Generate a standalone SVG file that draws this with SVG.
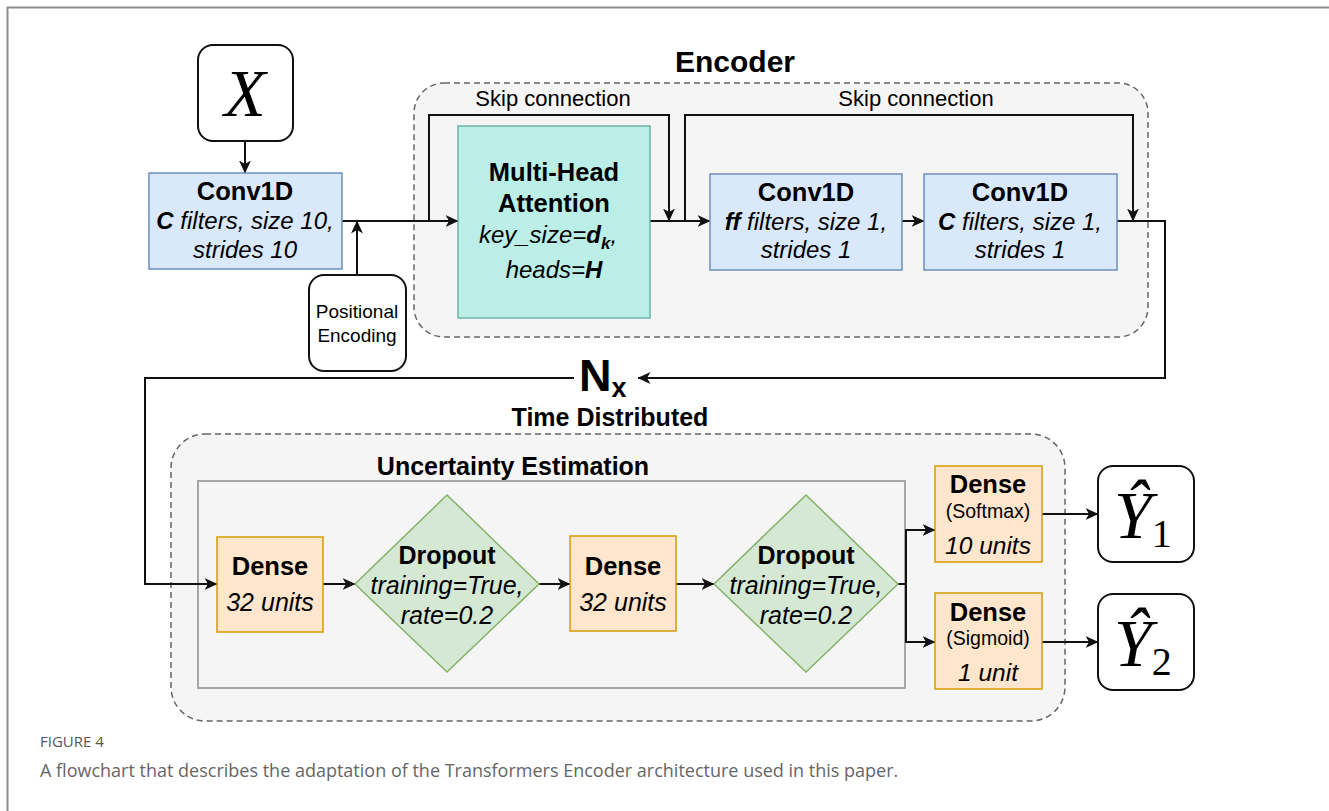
<svg xmlns="http://www.w3.org/2000/svg" width="1329" height="811" viewBox="0 0 1329 811">
<style>
.t{font-family:"Liberation Sans",Arial,sans-serif;fill:#000}
.b{font-weight:bold}
.i{font-style:italic}
.c{text-anchor:middle}
.m{font-family:"Liberation Serif","Times New Roman",serif;font-style:italic;fill:#000}
.conn{fill:none;stroke:#111;stroke-width:2}
.grp{fill:#f5f5f5;stroke:#666;stroke-width:1.5;stroke-dasharray:6 4}
.conv{fill:#dae8fc;stroke:#6c8ebf;stroke-width:1.5}
.dense{fill:#ffe6cc;stroke:#d79b00;stroke-width:1.5}
.drop{fill:#d5e8d4;stroke:#82b366;stroke-width:1.5}
.io{fill:#fff;stroke:#111;stroke-width:2}
</style>
<defs>
<marker id="arr" viewBox="0 0 13 12" refX="12.5" refY="6" markerWidth="13" markerHeight="12" markerUnits="userSpaceOnUse" orient="auto">
<path d="M0,0 L13,6 L0,12 L3.5,6 z" fill="#111"/>
</marker>
</defs>
<rect width="1329" height="811" fill="#fff"/>
<path d="M7.5,811 V7.5 H1329" fill="none" stroke="#8c8c8c" stroke-width="2"/>

<g id="encoder-group">
<rect class="grp" x="414" y="83" width="734" height="254" rx="30"/>
<text class="t b c" x="735" y="72" font-size="30">Encoder</text>
<text class="t c" x="553" y="106" font-size="22">Skip connection</text>
<text class="t c" x="916" y="106" font-size="22">Skip connection</text>
</g>
<g id="time-distributed-group">
<rect class="grp" x="171" y="434" width="894" height="287" rx="34"/>
<text class="t b c" x="610" y="426" font-size="25">Time Distributed</text>
</g>
<g id="uncertainty-group">
<rect x="198" y="481" width="707" height="207" fill="#f5f5f5" stroke="#a6a6a6" stroke-width="2"/>
<text class="t b c" x="513" y="475" font-size="25">Uncertainty Estimation</text>
</g>

<g id="connectors">
<path class="conn" d="M245,141 V173" marker-end="url(#arr)"/>
<path class="conn" d="M342,221 H458" marker-end="url(#arr)"/>
<path class="conn" d="M357,275 V221" marker-end="url(#arr)"/>
<path class="conn" d="M429,221 V115 H669 V221" marker-end="url(#arr)"/>
<path class="conn" d="M650,221 H710" marker-end="url(#arr)"/>
<path class="conn" d="M685,221 V115 H1133 V221" marker-end="url(#arr)"/>
<path class="conn" d="M902,221 H924" marker-end="url(#arr)"/>
<path class="conn" d="M1117,221 H1165 V378 H638" marker-end="url(#arr)"/>
<path class="conn" d="M574,378 H145 V584 H217" marker-end="url(#arr)"/>
<path class="conn" d="M323,584 H355" marker-end="url(#arr)"/>
<path class="conn" d="M539,584 H570" marker-end="url(#arr)"/>
<path class="conn" d="M676,584 H714" marker-end="url(#arr)"/>
<path class="conn" d="M898,584 H906 V530 H935" marker-end="url(#arr)"/>
<path class="conn" d="M906,584 V642 H935" marker-end="url(#arr)"/>
<path class="conn" d="M1042,514 H1098" marker-end="url(#arr)"/>
<path class="conn" d="M1042,642 H1098" marker-end="url(#arr)"/>
</g>

<g id="nx-label">
<text class="t b" x="579" y="391" font-size="45">N<tspan font-size="27" dy="6">x</tspan></text>
</g>

<g id="input-x">
<rect class="io" x="198" y="45" width="95" height="96" rx="15"/>
<text class="m c" x="245" y="116" font-size="68">X</text>
</g>

<g id="conv1d-input">
<rect class="conv" x="149" y="173" width="193" height="96"/>
<text class="t b c" x="245" y="200" font-size="25.5">Conv1D</text>
<text class="t i c" x="245" y="229" font-size="24"><tspan class="b">C</tspan> filters, size 10,</text>
<text class="t i c" x="245" y="258" font-size="24">strides 10</text>
</g>

<g id="positional-encoding">
<rect class="io" x="309" y="275" width="97" height="96" rx="15"/>
<text class="t c" x="357" y="318" font-size="19">Positional</text>
<text class="t c" x="357" y="342" font-size="19">Encoding</text>
</g>

<g id="multi-head-attention">
<rect x="458" y="126" width="192" height="192" fill="#bbeee7" stroke="#6bb3a8" stroke-width="1.5"/>
<text class="t b c" x="554" y="181" font-size="25.5">Multi-Head</text>
<text class="t b c" x="554" y="212" font-size="25.5">Attention</text>
<text class="t i c" x="548" y="243" font-size="24">key_size=<tspan class="b">d</tspan><tspan class="b" font-size="17" dy="6">k</tspan><tspan dy="-6">,</tspan></text>
<text class="t i c" x="554" y="278" font-size="24">heads=<tspan class="b">H</tspan></text>
</g>

<g id="conv1d-ff">
<rect class="conv" x="710" y="174" width="192" height="96"/>
<text class="t b c" x="806" y="201" font-size="25.5">Conv1D</text>
<text class="t i c" x="806" y="230" font-size="24"><tspan class="b">ff</tspan> filters, size 1,</text>
<text class="t i c" x="806" y="258" font-size="24">strides 1</text>
</g>

<g id="conv1d-c">
<rect class="conv" x="924" y="174" width="193" height="96"/>
<text class="t b c" x="1020" y="201" font-size="25.5">Conv1D</text>
<text class="t i c" x="1020" y="230" font-size="24"><tspan class="b">C</tspan> filters, size 1,</text>
<text class="t i c" x="1020" y="258" font-size="24">strides 1</text>
</g>

<g id="dense-1">
<rect class="dense" x="217" y="537" width="106" height="95"/>
<text class="t b c" x="270" y="575" font-size="25.5">Dense</text>
<text class="t i c" x="270" y="611" font-size="25">32 units</text>
</g>

<g id="dropout-1">
<polygon class="drop" points="447,495 539,584 447,672 355,584"/>
<text class="t b c" x="447" y="564" font-size="25">Dropout</text>
<text class="t i c" x="447" y="594" font-size="25">training=True,</text>
<text class="t i c" x="447" y="624" font-size="25">rate=0.2</text>
</g>

<g id="dense-2">
<rect class="dense" x="570" y="536" width="106" height="95"/>
<text class="t b c" x="623" y="575" font-size="25.5">Dense</text>
<text class="t i c" x="623" y="611" font-size="25">32 units</text>
</g>

<g id="dropout-2">
<polygon class="drop" points="806,495 898,584 806,672 714,584"/>
<text class="t b c" x="806" y="564" font-size="25">Dropout</text>
<text class="t i c" x="806" y="594" font-size="25">training=True,</text>
<text class="t i c" x="806" y="624" font-size="25">rate=0.2</text>
</g>

<g id="dense-softmax">
<rect class="dense" x="935" y="466" width="107" height="96"/>
<text class="t b c" x="988" y="493" font-size="25.5">Dense</text>
<text class="t c" x="988" y="518" font-size="19.5">(Softmax)</text>
<text class="t i c" x="988" y="554" font-size="24.5">10 units</text>
</g>

<g id="dense-sigmoid">
<rect class="dense" x="935" y="593" width="107" height="96"/>
<text class="t b c" x="988" y="621" font-size="25.5">Dense</text>
<text class="t c" x="988" y="645" font-size="19.5">(Sigmoid)</text>
<text class="t i c" x="988" y="681" font-size="24.5">1 unit</text>
</g>

<g id="output-y1">
<rect class="io" x="1098" y="466" width="96" height="96" rx="15"/>
<text class="m" x="1114" y="538" font-size="68">Ŷ<tspan font-style="normal" font-size="40" dy="9">1</tspan></text>
</g>

<g id="output-y2">
<rect class="io" x="1098" y="594" width="96" height="96" rx="15"/>
<text class="m" x="1114" y="666" font-size="68">Ŷ<tspan font-style="normal" font-size="40" dy="9">2</tspan></text>
</g>

<g id="caption">
<text x="40" y="747" font-family="'Open Sans','Liberation Sans',sans-serif" font-size="15" fill="#555">FIGURE 4</text>
<text x="40" y="777" font-family="'Open Sans','Liberation Sans',sans-serif" font-size="18" fill="#666">A flowchart that describes the adaptation of the Transformers Encoder architecture used in this paper.</text>
</g>
</svg>
